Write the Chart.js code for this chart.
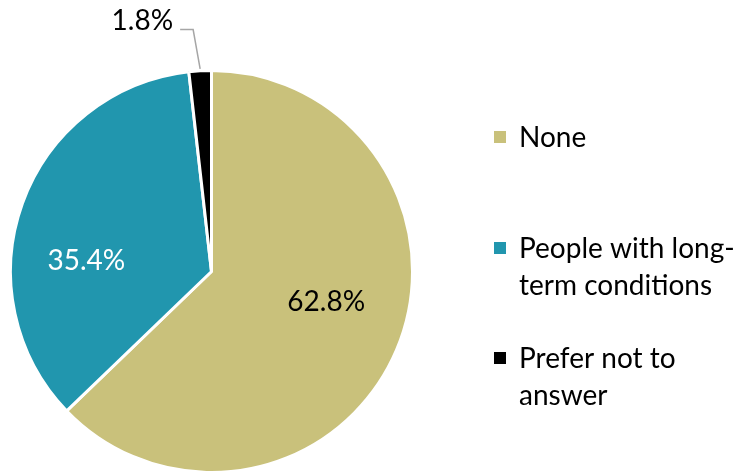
<!DOCTYPE html>
<html>
<head>
<meta charset="utf-8">
<script src="https://cdn.jsdelivr.net/npm/chart.js@4.4.1/dist/chart.umd.min.js"></script>
<style>
  html, body { margin: 0; padding: 0; background: #fff; }
  #wrap { width: 747px; height: 474px; position: relative; }
</style>
</head>
<body>
<div id="wrap"><canvas id="c" width="747" height="474"></canvas></div>
<script>
// Long-term conditions breakdown (percent of respondents)
const categories = ['None', 'People with long-term conditions', 'Prefer not to answer'];
const legendLines = [['None'], ['People with long-', 'term conditions'], ['Prefer not to', 'answer']];
const shares = [62.8, 35.4, 1.8];
const valueLabels = ['62.8%', '35.4%', '1.8%'];
const sliceColors = ['#C9C17B', '#2196AE', '#000000'];

const FONT = 'Lato, "Open Sans", sans-serif';

// Percentage labels: inside for the big slices, outside with a leader line for the small one
const sliceLabels = {
  id: 'sliceLabels',
  afterDatasetsDraw(chart) {
    const ctx = chart.ctx;
    const arcs = chart.getDatasetMeta(0).data;
    const place = [
      { inside: true, frac: 0.59, turn: -0.145, color: '#000' },
      { inside: true, frac: 0.625, turn: -0.265, color: '#fff' },
      { inside: false }
    ];
    ctx.save();
    ctx.font = '28px ' + FONT;
    ctx.textBaseline = 'middle';
    arcs.forEach((arc, i) => {
      const p = arc.getProps(['x', 'y', 'startAngle', 'endAngle', 'outerRadius']);
      const mid = (p.startAngle + p.endAngle) / 2;
      const cfg = place[i];
      if (cfg.inside) {
        const a = mid + cfg.turn;
        const r = p.outerRadius * cfg.frac;
        ctx.fillStyle = cfg.color;
        ctx.textAlign = 'center';
        ctx.fillText(valueLabels[i], p.x + Math.cos(a) * r, p.y + Math.sin(a) * r);
      } else {
        const ex = p.x + Math.cos(mid) * p.outerRadius;
        const ey = p.y + Math.sin(mid) * p.outerRadius;
        const kx = ex - 7, ky = p.y - p.outerRadius - 41;
        ctx.strokeStyle = '#A6A6A6';
        ctx.lineWidth = 1.5;
        ctx.beginPath();
        ctx.moveTo(ex, ey - 2);
        ctx.lineTo(kx, ky);
        ctx.lineTo(kx - 13, ky);
        ctx.stroke();
        ctx.fillStyle = '#000';
        ctx.textAlign = 'right';
        ctx.fillText(valueLabels[i], kx - 20, ky - 9);
      }
    });
    ctx.restore();
  }
};

// Legend on the right with wrapped entries
const sideLegend = {
  id: 'sideLegend',
  afterDraw(chart) {
    const ctx = chart.ctx;
    const x0 = 494, textX = 519, lineH = 37;
    const tops = [137, 248, 358];
    ctx.save();
    ctx.font = '28px ' + FONT;
    ctx.textBaseline = 'middle';
    ctx.textAlign = 'left';
    legendLines.forEach((lines, i) => {
      ctx.fillStyle = sliceColors[i];
      ctx.fillRect(x0, tops[i] - 6, 12, 12);
      ctx.fillStyle = '#000';
      lines.forEach((t, j) => ctx.fillText(t, textX, tops[i] + 1 + j * lineH));
    });
    ctx.restore();
  }
};

new Chart(document.getElementById('c'), {
  type: 'pie',
  data: {
    labels: categories,
    datasets: [{
      data: shares,
      backgroundColor: sliceColors,
      borderColor: '#ffffff',
      borderWidth: 3
    }]
  },
  options: {
    responsive: false,
    animation: false,
    layout: { padding: { left: 8, top: 69, right: 332, bottom: 0 } },
    plugins: { legend: { display: false }, tooltip: { enabled: false } }
  },
  plugins: [sliceLabels, sideLegend]
});
</script>
</body>
</html>
